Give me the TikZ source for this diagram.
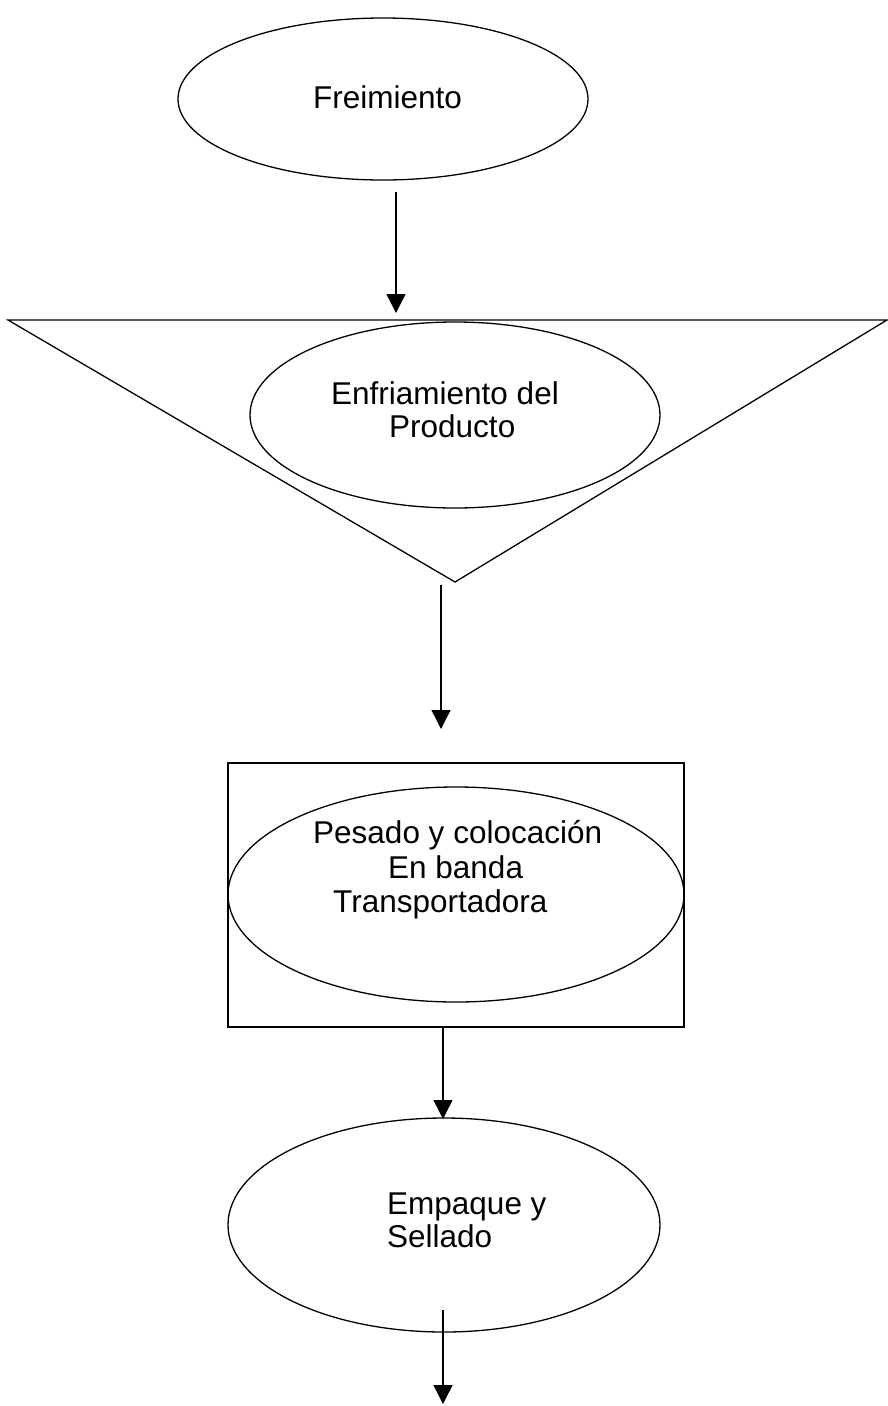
\documentclass[tikz,border=0pt]{standalone}
\usepackage{fontspec}
\setmainfont{Liberation Sans}
\usetikzlibrary{shapes.geometric,arrows.meta}
\begin{document}
\begin{tikzpicture}[x=1pt,y=-1pt,
  outline/.style={draw=black,line width=1.3pt},
  oval/.style={outline,ellipse,inner sep=0pt},
  label/.style={inner sep=0pt,anchor=base west,font=\fontsize{31.5}{35}\selectfont},
  flow/.style={line width=1.4pt,-{Triangle[length=19pt,width=19pt]}}]
\useasboundingbox (0,0) rectangle (887,1406);

% step 1: frying
\node[oval,minimum width=410pt,minimum height=162pt] (fry) at (383,99) {};
\node[label] (tfry) at (313,108) {Freimiento};

% step 2: cooling (storage triangle with oval)
\coordinate (tl) at (8,320);
\coordinate (tr) at (887,320);
\coordinate (tp) at (455,582);
\draw[outline,line join=miter] (tl) -- (tr) -- (tp) -- cycle;
\node[oval,minimum width=410pt,minimum height=186pt] (cool) at (455,415) {};
\node[label] (tcool1) at (331,404) {Enfriamiento del};
\node[label] (tcool2) at (389,437) {Producto};

% step 3: weighing (box with oval)
\node[outline,rectangle,inner sep=0pt,minimum width=456pt,minimum height=264pt] (box) at (456,895) {};
\node[oval,minimum width=456pt,minimum height=215pt] (weigh) at (456,894.5) {};
\node[label] (tweigh1) at (313,843) {Pesado y colocación};
\node[label] (tweigh2) at (388,878) {En banda};
\node[label] (tweigh3) at (333,912) {Transportadora};

% step 4: packing
\node[oval,minimum width=432pt,minimum height=214pt] (pack) at (444,1225) {};
\node[label] (tpack1) at (387,1214) {Empaque y};
\node[label] (tpack2) at (387,1247) {Sellado};

% connectors
\coordinate (a1s) at (396,192);  \coordinate (a1e) at (396,313);
\coordinate (a2s) at (441,585);  \coordinate (a2e) at (441,729);
\coordinate (a3s) at (443,1027); \coordinate (a3e) at (443,1119);
\coordinate (a4s) at (443,1310); \coordinate (a4e) at (443,1404);
\draw[flow] (a1s) -- (a1e);
\draw[flow] (a2s) -- (a2e);
\draw[flow] (a3s) -- (a3e);
\draw[flow] (a4s) -- (a4e);
\end{tikzpicture}
\end{document}
